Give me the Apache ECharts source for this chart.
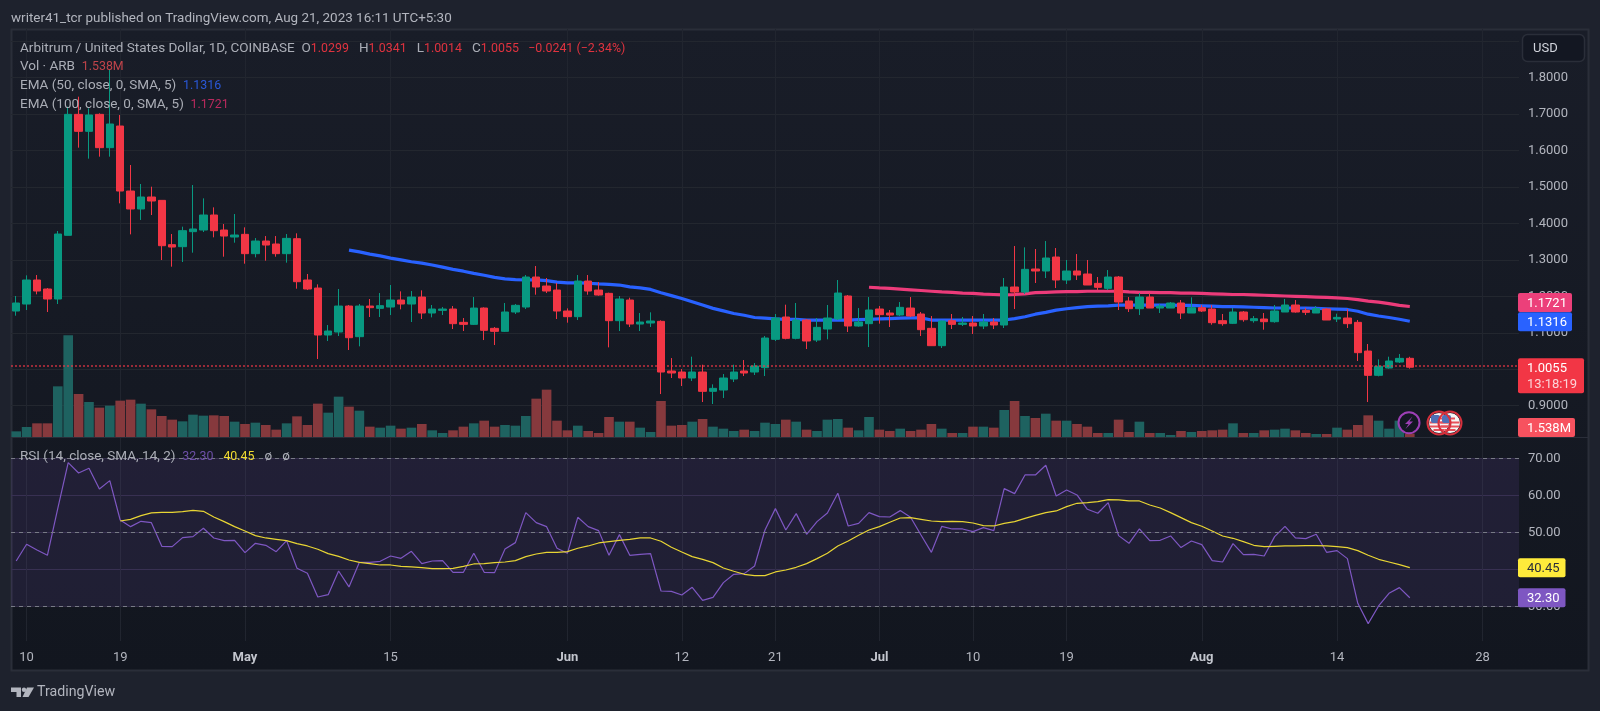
<!DOCTYPE html>
<html>
<head>
<meta charset="utf-8">
<title>ARB/USD</title>
<script src="https://cdn.jsdelivr.net/npm/echarts@6/dist/echarts.min.js"></script>
<style>
  html, body { margin: 0; padding: 0; background: #1e222d; }
  #main { width: 1600px; height: 711px; }
</style>
</head>
<body>
<div id="main"></div>
<script>
// daily candles, 9 Apr to 21 Aug
const opens = [
  1.1597,1.1789,1.2448,1.2201,1.1927,1.3674,1.6994,1.6528,1.6994,1.6080,
  1.6674,1.4890,1.4397,1.4726,1.4634,1.3418,1.3363,1.3775,1.3820,1.4232,
  1.3820,1.3628,1.3701,1.3171,1.3518,1.3436,1.3171,1.3582,1.2448,1.2228,
  1.0939,1.1021,1.1734,1.0893,1.1734,1.1670,1.1707,1.1899,1.1789,1.1981,
  1.1542,1.1615,1.1652,1.1286,1.1231,1.1679,1.1122,1.1039,1.1570,1.1707,
  1.2530,1.2283,1.2173,1.1597,1.1442,1.2420,1.2173,1.2082,1.1332,1.1899,
  1.1240,1.1268,1.1314,0.9951,0.9923,0.9759,0.9923,0.9393,0.9429,0.9731,
  0.9951,0.9923,1.0042,1.0820,1.1433,1.0847,1.1350,1.0801,1.1103,1.1378,
  1.2009,1.1186,1.1250,1.1652,1.1542,1.1487,1.1679,1.1515,1.1122,1.0646,
  1.1332,1.1231,1.1268,1.1186,1.1295,1.1213,1.2256,1.2119,1.2750,1.2695,
  1.3079,1.2448,1.2695,1.2613,1.2356,1.2219,1.2530,1.1872,1.1661,1.1981,
  1.1679,1.1679,1.1817,1.1542,1.1689,1.1652,1.1332,1.1259,1.1570,1.1332,
  1.1378,1.1304,1.1570,1.1762,1.1615,1.1542,1.1652,1.1378,1.1405,1.1286,
  1.0499,0.9832,1.0033,1.0198,1.0299
];
const closes = [
  1.1817,1.2448,1.2146,1.1927,1.3710,1.6994,1.6528,1.6976,1.6080,1.6729,
  1.4890,1.4397,1.4726,1.4616,1.3390,1.3353,1.3802,1.3848,1.4232,1.3802,
  1.3655,1.3683,1.3171,1.3518,1.3408,1.3171,1.3591,1.2402,1.2201,1.0939,
  1.1048,1.1734,1.0865,1.1734,1.1689,1.1744,1.1899,1.1789,1.1981,1.1542,
  1.1652,1.1652,1.1250,1.1231,1.1679,1.1067,1.1039,1.1570,1.1753,1.2530,
  1.2256,1.2146,1.1597,1.1442,1.2420,1.2146,1.2036,1.1332,1.1927,1.1240,
  1.1295,1.1323,0.9923,0.9896,0.9759,0.9923,0.9393,0.9475,0.9759,0.9923,
  0.9896,1.0088,1.0856,1.1405,1.0847,1.1350,1.0774,1.1149,1.1405,1.2091,
  1.1186,1.1295,1.1625,1.1497,1.1487,1.1698,1.1460,1.1085,1.0646,1.1323,
  1.1231,1.1268,1.1186,1.1295,1.1213,1.2256,1.2119,1.2741,1.2695,1.3052,
  1.2448,1.2695,1.2585,1.2311,1.2247,1.2530,1.1844,1.1661,1.1981,1.1679,
  1.1734,1.1817,1.1542,1.1689,1.1597,1.1277,1.1250,1.1570,1.1359,1.1387,
  1.1304,1.1597,1.1762,1.1570,1.1561,1.1661,1.1350,1.1423,1.1250,1.0454,
  0.9832,1.0079,1.0225,1.0298,1.0055
];
const highs = [
  1.2009,1.2576,1.2585,1.2228,1.3793,1.7205,1.7479,1.7159,1.7022,1.8211,
  1.6976,1.5604,1.5083,1.5009,1.4640,1.3710,1.3912,1.5055,1.4689,1.4442,
  1.3985,1.4259,1.3893,1.3600,1.3655,1.3655,1.3710,1.3729,1.2613,1.2329,
  1.1213,1.2201,1.1762,1.1789,1.1927,1.2091,1.2311,1.2137,1.2146,1.2164,
  1.1762,1.1707,1.1734,1.1405,1.1981,1.1698,1.1158,1.1817,1.1789,1.2585,
  1.2832,1.2503,1.2366,1.1670,1.2585,1.2585,1.2393,1.2100,1.2009,1.1963,
  1.1542,1.1561,1.1341,1.0307,1.0005,1.0344,1.0124,0.9585,0.9868,1.0124,
  1.0252,1.0170,1.0911,1.1515,1.1771,1.1817,1.1378,1.1405,1.1762,1.2448,
  1.2036,1.1679,1.1981,1.1734,1.1625,1.1844,1.1981,1.1570,1.1460,1.1332,
  1.1515,1.1433,1.1460,1.1515,1.1405,1.2503,1.3381,1.3344,1.3299,1.3518,
  1.3326,1.2997,1.3161,1.2997,1.2530,1.2722,1.2558,1.1981,1.2091,1.2091,
  1.1789,1.1844,1.1899,1.1972,1.1762,1.1762,1.1515,1.1679,1.1597,1.1460,
  1.1542,1.1762,1.1927,1.1899,1.1679,1.1734,1.1679,1.1524,1.1652,1.1350,
  1.0692,1.0271,1.0344,1.0417,1.0341
];
const lows = [
  1.1469,1.1625,1.2055,1.1570,1.1789,1.3670,1.6080,1.5778,1.5833,1.5833,
  1.4552,1.3701,1.4095,1.4232,1.2997,1.2814,1.2942,1.3198,1.3765,1.3619,
  1.3088,1.3472,1.2896,1.3070,1.2978,1.3088,1.2924,1.2210,1.2173,1.0280,
  1.0774,1.0911,1.0527,1.0628,1.1433,1.1433,1.1487,1.1643,1.1295,1.1378,
  1.1423,1.1487,1.1103,1.1048,1.1213,1.0801,1.0664,1.1021,1.1515,1.1652,
  1.2045,1.2091,1.1378,1.1277,1.1350,1.2045,1.2018,1.0600,1.1048,1.1158,
  1.1048,1.1158,0.9319,0.9759,0.9539,0.9676,0.9100,0.9045,0.9210,0.9649,
  0.9813,0.9841,0.9813,1.0774,1.0820,1.0820,1.0554,1.0747,1.0820,1.1350,
  1.1021,1.1167,1.0609,1.1250,1.1158,1.1460,1.1433,1.0911,1.0637,1.0582,
  1.1103,1.1186,1.0966,1.1103,1.1103,1.1131,1.1652,1.2064,1.2366,1.2503,
  1.2228,1.2338,1.2448,1.2311,1.2173,1.2173,1.1625,1.1570,1.1487,1.1679,
  1.1542,1.1679,1.1378,1.1542,1.1570,1.1222,1.1195,1.1240,1.1304,1.1277,
  1.1085,1.1277,1.1570,1.1552,1.1487,1.1542,1.1350,1.1295,1.1131,1.0225,
  0.9100,0.9804,1.0015,1.0170,1.0014
];
// volume in millions
const volumes = [
  2.55,4.5,6.15,6.15,22.8,45.75,19.35,15.75,13.2,14.1,
  16.35,16.8,15,12.45,9.45,7.8,7.05,10.05,9.6,9.75,
  9.45,6.9,5.85,6.45,5.4,3.3,6.15,9.3,5.4,15,
  10.95,18.15,13.65,11.85,4.65,4.2,5.1,3.75,4.2,5.85,
  3,1.8,3,4.65,6.15,7.35,4.65,5.4,5.1,9.45,
  17.25,21.3,7.35,3,5.1,2.7,1.8,9,6.9,6.9,
  4.2,2.25,16.2,5.1,5.4,6.9,8.1,4.65,3.75,2.7,
  3.3,2.7,6.45,5.85,7.8,6.9,3.3,2.7,7.8,8.1,
  4.2,3,9,3.3,2.7,3.75,2.7,3.3,5.85,3.75,
  1.8,1.8,4.65,4.65,4.2,12.15,16.2,9.45,8.55,10.5,
  7.35,7.35,5.85,4.65,1.8,1.8,7.8,2.25,6.9,1.8,
  1.8,0.9,2.7,2.25,2.7,3,3.3,6.15,1.8,1.8,
  3,3.3,3.75,3,1.8,1.35,1.35,4.2,3.3,5.4,
  9.75,7.35,3.75,7.35,1.538
];
// EMA 50 starts at bar 32, EMA 100 at bar 82, RSI MA at bar 10
const ema50Start = 32;
const ema50 = [
  1.327,1.322,1.316,1.311,1.305,1.300,1.295,1.291,1.286,1.280,
  1.274,1.269,1.263,1.258,1.252,1.248,1.246,1.245,1.245,1.243,
  1.239,1.237,1.237,1.236,1.234,1.233,1.231,1.226,1.223,1.219,
  1.210,1.202,1.194,1.185,1.176,1.167,1.160,1.153,1.148,1.142,
  1.140,1.138,1.137,1.137,1.135,1.135,1.135,1.135,1.135,1.136,
  1.137,1.138,1.139,1.140,1.141,1.141,1.135,1.135,1.135,1.135,
  1.135,1.135,1.135,1.135,1.139,1.144,1.151,1.156,1.162,1.166,
  1.169,1.172,1.173,1.174,1.176,1.176,1.176,1.176,1.176,1.176,
  1.175,1.175,1.174,1.173,1.172,1.172,1.171,1.170,1.169,1.168,
  1.168,1.168,1.168,1.167,1.166,1.165,1.164,1.159,1.151,1.146,
  1.142,1.137,1.1316
];
const ema100Start = 82;
const ema100 = [
  1.225,1.223,1.222,1.220,1.218,1.216,1.214,1.212,1.211,1.209,
  1.208,1.206,1.205,1.204,1.205,1.207,1.210,1.211,1.212,1.213,
  1.213,1.214,1.214,1.214,1.214,1.212,1.211,1.211,1.210,1.210,
  1.209,1.209,1.208,1.207,1.206,1.205,1.205,1.204,1.203,1.202,
  1.201,1.200,1.199,1.198,1.197,1.196,1.194,1.191,1.187,1.184,
  1.180,1.175,1.1721
];
const rsi = [
  42.25,46.76,45.23,43.78,56.49,68.83,66.04,67.30,61.71,63.96,
  53.33,51.53,52.97,52.61,46.22,46.13,48.56,48.83,51.08,48.47,
  47.75,47.84,44.50,47.03,46.49,44.77,47.75,40.27,38.92,32.52,
  33.15,39.55,35.23,41.89,41.89,42.16,43.60,42.97,44.86,41.53,
  42.25,42.34,39.19,39.19,44.32,39.19,39.10,45.50,47.21,55.32,
  52.61,51.53,45.68,44.32,54.05,51.53,50.45,43.78,49.37,43.78,
  44.05,44.23,34.14,34.05,33.06,35.14,31.62,32.43,36.40,38.65,
  38.83,40.90,50.63,56.40,50.63,55.05,49.46,52.88,55.23,60.54,
  51.71,52.43,55.32,54.23,54.14,55.86,54.05,49.28,44.59,51.62,
  50.90,50.90,50.18,51.26,50.45,61.80,60.45,65.50,65.50,68.11,
  59.82,61.44,60.09,56.22,55.14,58.02,49.10,47.03,50.90,47.75,
  47.84,49.01,45.86,47.66,46.67,42.34,41.98,46.94,43.96,44.05,
  43.60,48.83,51.62,48.47,48.29,49.46,44.59,45.05,42.88,30.81,
  25.32,30.09,33.51,35.05,32.30
];
const rsiMaStart = 10;
const rsiMa = [
  53.06,53.51,54.50,55.23,55.41,55.41,55.59,55.95,55.68,54.14,
  52.88,51.53,50.36,49.10,48.47,48.11,47.75,46.94,46.31,45.41,
  44.23,43.51,42.52,41.89,41.53,41.17,41.17,40.81,40.63,40.45,
  40.18,40.18,40.27,40.81,41.44,41.53,41.80,41.98,42.34,43.42,
  44.14,44.59,44.59,44.77,45.68,46.31,47.12,47.48,47.84,48.11,
  48.47,48.47,47.57,45.95,44.68,43.42,42.70,41.80,40.36,39.46,
  38.65,38.29,38.29,39.28,39.82,40.54,41.53,42.88,44.32,46.31,
  47.66,49.19,50.63,51.53,52.70,53.87,53.96,53.51,53.06,52.88,
  52.97,52.88,52.52,51.80,51.71,52.43,52.88,53.78,54.59,55.32,
  55.77,56.94,57.84,58.02,58.29,58.83,58.74,58.47,58.47,57.39,
  56.58,55.32,53.96,52.61,51.62,50.36,49.01,48.38,47.48,46.49,
  46.13,46.22,46.31,46.31,46.40,46.40,46.31,46.13,45.86,45.05,
  43.78,42.70,41.98,41.26,40.45
];
const rsiBandTop = 70;
const rsiBandMid = 50;
const rsiBandLow = 30;
const lastClose = 1.0055;
const lastEma50 = 1.1316;
const lastEma100 = 1.1721;
const lastRsi = 32.30;
const lastRsiMa = 40.45;

// the axis runs past the last candle, to 31 Aug
const categories = [];
for (let d = Date.UTC(2023, 3, 9); d <= Date.UTC(2023, 7, 31); d += 86400000) {
  categories.push(new Date(d).toISOString().slice(0, 10));
}
const tickLabels = {
  '2023-04-10': '10', '2023-04-19': '19', '2023-05-01': 'May', '2023-05-15': '15',
  '2023-06-01': 'Jun', '2023-06-12': '12', '2023-06-21': '21', '2023-07-01': 'Jul',
  '2023-07-10': '10', '2023-07-19': '19', '2023-08-01': 'Aug', '2023-08-14': '14',
  '2023-08-28': '28'
};
const isTick = (i, v) => tickLabels[v] !== undefined;
const pad = (start, vals) => new Array(start).fill(null).concat(vals);

const UP = '#089981', DOWN = '#f23645';
const FONT = 'Roboto, sans-serif';
const GRID_LINE = '#23272f', TEXT = '#b2b5be';
const LEFT = 11, WIDTH = 1508;

const chart = echarts.init(document.getElementById('main'));

chart.setOption({
  animation: false,
  backgroundColor: 'transparent',
  grid: [
    { left: LEFT, width: WIDTH, top: 29, height: 612 },        // vertical lines and dates
    { left: LEFT, width: WIDTH, top: 41.26, height: 400.84 },  // price, 1.9 down to 0.8
    { left: LEFT, width: WIDTH, top: 29, height: 408 },        // volume
    { left: LEFT, width: WIDTH, top: 458.3, height: 185 }      // rsi, 70 down to 20
  ],
  xAxis: [
    {
      type: 'category', gridIndex: 0, data: categories,
      axisLine: { show: false }, axisTick: { show: false },
      axisLabel: {
        interval: isTick, margin: 10, fontFamily: FONT, fontSize: 13, color: TEXT,
        formatter: v => {
          const t = tickLabels[v];
          return /[A-Z]/.test(t) ? '{m|' + t + '}' : t;
        },
        rich: { m: { fontFamily: FONT, fontSize: 13, fontWeight: 'bold', color: '#c3c6ce' } }
      },
      splitLine: { show: true, interval: isTick, alignWithLabel: true, lineStyle: { color: '#21252f', width: 1 } }
    },
    { type: 'category', gridIndex: 1, data: categories, show: false },
    { type: 'category', gridIndex: 2, data: categories, show: false },
    { type: 'category', gridIndex: 3, data: categories, show: false }
  ],
  yAxis: [
    { type: 'value', gridIndex: 0, min: 0, max: 1, show: false },
    {
      type: 'value', gridIndex: 1, position: 'right', min: 0.8, max: 1.9, interval: 0.1,
      axisLine: { show: false }, axisTick: { show: false },
      axisLabel: { margin: 9, padding: [3, 0, 0, 0], showMinLabel: false, showMaxLabel: false, fontFamily: FONT, fontSize: 13, color: TEXT, formatter: v => v.toFixed(4) },
      splitLine: { show: true, showMinLine: false, lineStyle: { color: GRID_LINE, width: 1 } }
    },
    { type: 'value', gridIndex: 2, min: 0, max: 183.6, show: false },
    {
      type: 'value', gridIndex: 3, position: 'right', min: 20, max: 70, interval: 10,
      axisLine: { show: false }, axisTick: { show: false },
      axisLabel: { margin: 9, padding: [3, 0, 0, 0], showMinLabel: false, fontFamily: FONT, fontSize: 13, color: TEXT, formatter: v => v.toFixed(2) },
      splitLine: { show: true, showMinLine: false, lineStyle: { color: '#2e2b42', width: 1 } }
    }
  ],
  series: [
    {
      name: 'Vol', type: 'bar', xAxisIndex: 2, yAxisIndex: 2, z: 1, barWidth: 9.6, silent: true,
      data: volumes.map((v, i) => ({
        value: v,
        itemStyle: { color: closes[i] >= opens[i] ? '#1e6260' : '#86393d' }
      }))
    },
    {
      name: 'EMA 50', type: 'line', xAxisIndex: 1, yAxisIndex: 1, z: 2, showSymbol: false, silent: true,
      lineStyle: { color: '#2962ff', width: 3.2 }, data: pad(ema50Start, ema50)
    },
    {
      name: 'EMA 100', type: 'line', xAxisIndex: 1, yAxisIndex: 1, z: 2, showSymbol: false, silent: true,
      lineStyle: { color: '#ec3b7a', width: 3.2 }, data: pad(ema100Start, ema100)
    },
    {
      name: 'ARB', type: 'candlestick', xAxisIndex: 1, yAxisIndex: 1, z: 3, barWidth: 8, silent: true,
      itemStyle: { color: UP, color0: DOWN, borderColor: UP, borderColor0: DOWN, borderWidth: 1 },
      data: opens.map((o, i) => [o, closes[i], lows[i], highs[i]]),
      markLine: {
        silent: true, symbol: 'none', label: { show: false },
        lineStyle: { color: DOWN, type: [2, 2], width: 2, opacity: 0.6 },
        data: [{ yAxis: lastClose }]
      }
    },
    {
      name: 'RSI', type: 'line', xAxisIndex: 3, yAxisIndex: 3, z: 3, showSymbol: false, silent: true,
      lineStyle: { color: '#7e57c2', width: 1.2 }, data: rsi,
      markArea: {
        silent: true, itemStyle: { color: 'rgba(126,87,194,0.13)' },
        data: [[{ yAxis: rsiBandTop }, { yAxis: rsiBandLow }]]
      },
      markLine: {
        silent: true, symbol: 'none', label: { show: false },
        lineStyle: { color: '#787b86', type: [4, 4], width: 1 },
        data: [{ yAxis: rsiBandTop }, { yAxis: rsiBandMid }, { yAxis: rsiBandLow }]
      }
    },
    {
      name: 'RSI MA', type: 'line', xAxisIndex: 3, yAxisIndex: 3, z: 4, showSymbol: false, silent: true,
      lineStyle: { color: '#e8d534', width: 1.2 }, data: pad(rsiMaStart, rsiMa)
    }
  ]
});

// tags on the scales follow the axes
const priceY = v => chart.convertToPixel({ yAxisIndex: 1 }, v);
const rsiY = v => chart.convertToPixel({ yAxisIndex: 3 }, v);

function tag(x, y, w, h, fill, label, fg) {
  return [
    { type: 'rect', z: 50, shape: { x: x, y: y, width: w, height: h, r: 2 }, style: { fill: fill } },
    { type: 'text', z: 51, style: { x: x + 9, y: y + h / 2 + 1, text: label, fill: fg || '#fff', font: '13px ' + FONT, verticalAlign: 'middle' } }
  ];
}

// names in grey are wider than the coloured numbers next to them
function legend(y, parts) {
  const rich = {};
  let text = '';
  parts.forEach((p, i) => {
    rich['s' + i] = { fill: p[1], font: (p[1] === G ? '13.5px ' : '12.4px ') + FONT };
    text += '{s' + i + '|' + p[0] + '}';
  });
  return { type: 'text', z: 40, style: { x: 20, y: y, text: text, rich: rich, verticalAlign: 'middle' } };
}

function usFlag(cx, cy) {
  const stripes = [[-5.5, 5], [-1.5, 9.5], [2.5, 9], [6, 5.5]].map(s => ({
    type: 'rect', z: 45, shape: { x: cx - s[1], y: cy + s[0], width: s[1] * 2, height: 2 }, style: { fill: '#e8505b' }
  }));
  return [
    { type: 'circle', z: 44, shape: { cx: cx, cy: cy, r: 10.5 }, style: { fill: '#f5f5f5', stroke: '#131722', lineWidth: 1 } }
  ].concat(stripes).concat([
    { type: 'rect', z: 46, shape: { x: cx - 8, y: cy - 8, width: 9, height: 8, r: 2 }, style: { fill: '#4f6fb5' } },
    { type: 'circle', z: 47, shape: { cx: cx, cy: cy, r: 11.5 }, style: { fill: 'none', stroke: '#d7303c', lineWidth: 2 } }
  ]);
}

const G = 'rgba(178,181,190,0.95)', R = '#e0333f';
chart.setOption({
  graphic: [
    // frame behind everything
    {
      type: 'rect', z: -10, shape: { x: 11.5, y: 29.5, width: 1577, height: 641 },
      style: {
        stroke: '#2a2e39', lineWidth: 2,
        fill: { type: 'linear', x: 0, y: 0, x2: 0, y2: 1, colorStops: [{ offset: 0, color: '#191d28' }, { offset: 1, color: '#12161f' }] }
      }
    },
    { type: 'rect', z: 1, shape: { x: 11, y: 437, width: 1577, height: 1 }, style: { fill: '#2a2e39' } },

    { type: 'text', z: 40, style: { x: 11, y: 18.5, text: 'writer41_tcr published on TradingView.com, Aug 21, 2023 16:11 UTC+5:30', fill: '#b2b5be', font: '13.45px ' + FONT, verticalAlign: 'middle' } },
    legend(48.5, [
      ['Arbitrum / United States Dollar, 1D, COINBASE  O', G], ['1.0299', R], ['   H', G], ['1.0341', R],
      ['   L', G], ['1.0014', R], ['   C', G], ['1.0055', R], ['   \u22120.0241 (\u22122.34%)', R]
    ]),
    legend(67, [['Vol \u00b7 ARB  ', G], ['1.538M', '#c0444a']]),
    legend(86, [['EMA (50, close, 0, SMA, 5)  ', G], ['1.1316', '#2a58d8']]),
    legend(104.5, [['EMA (100, close, 0, SMA, 5)  ', G], ['1.1721', '#b92a5e']]),
    legend(456.5, [['RSI (14, close, SMA, 14, 2)  ', G], ['32.30', '#6d50a8'], ['   ', G], ['40.45', '#f2dc30'], ['   \u00f8   \u00f8', G]]),

    // USD button
    { type: 'rect', z: 40, shape: { x: 1522.5, y: 34.5, width: 62, height: 27, r: 5 }, style: { fill: '#131722', stroke: '#2a2e39', lineWidth: 1.5 } },
    { type: 'text', z: 41, style: { x: 1533, y: 49, text: 'USD', fill: '#d1d4dc', font: '13px ' + FONT, verticalAlign: 'middle' } }
  ]
    .concat(tag(1518, priceY(lastEma100) - 13.5, 54, 19, '#ec407a', '1.1721'))
    .concat(tag(1518, priceY(lastEma50) - 9, 54, 19, '#2962ff', '1.1316'))
    .concat([
      { type: 'rect', z: 50, shape: { x: 1518, y: priceY(lastClose) - 9, width: 66, height: 35, r: 2 }, style: { fill: DOWN } },
      { type: 'text', z: 51, style: { x: 1527, y: priceY(lastClose) + 1.5, text: '1.0055', fill: '#fff', font: '13px ' + FONT, verticalAlign: 'middle' } },
      { type: 'text', z: 51, style: { x: 1527, y: priceY(lastClose) + 17.5, text: '13:18:19', fill: '#fbd3d7', font: '13px ' + FONT, verticalAlign: 'middle' } }
    ])
    .concat(tag(1518, 418, 57, 19, '#f7525f', '1.538M'))
    .concat(tag(1518, rsiY(lastRsiMa) - 9.5, 47.5, 19, '#ffeb3b', '40.45', '#2a2e39'))
    .concat(tag(1518, rsiY(lastRsi) - 9.5, 47.5, 19, '#7e57c2', '32.30'))
    .concat([
      // lightning and flags sitting on the volume pane
      { type: 'circle', z: 44, shape: { cx: 1409, cy: 422.7, r: 10.5 }, style: { fill: '#131722', stroke: '#9c3fb5', lineWidth: 2 } },
      { type: 'polygon', z: 45, shape: { points: [[1412.5, 416.5], [1405, 424], [1408.6, 424], [1405.5, 429], [1413, 421.5], [1409.4, 421.5]] }, style: { fill: '#9c3fb5' } }
    ])
    .concat(usFlag(1450, 423))
    .concat(usFlag(1439, 423))
    .concat([
      // footer logo
      { type: 'polygon', z: 40, shape: { points: [[11, 687.5], [21, 687.5], [21, 697], [16.5, 697], [16.5, 692], [11, 692]] }, style: { fill: '#b2b5be' } },
      { type: 'polygon', z: 40, shape: { points: [[27, 687.5], [34, 687.5], [28.5, 697], [22.5, 697]] }, style: { fill: '#b2b5be' } },
      { type: 'circle', z: 40, shape: { cx: 24, cy: 689.7, r: 2.2 }, style: { fill: '#b2b5be' } },
      { type: 'text', z: 40, style: { x: 37, y: 692.5, text: 'TradingView', fill: '#b2b5be', font: '14.2px ' + FONT, verticalAlign: 'middle' } }
    ])
});
</script>
</body>
</html>
